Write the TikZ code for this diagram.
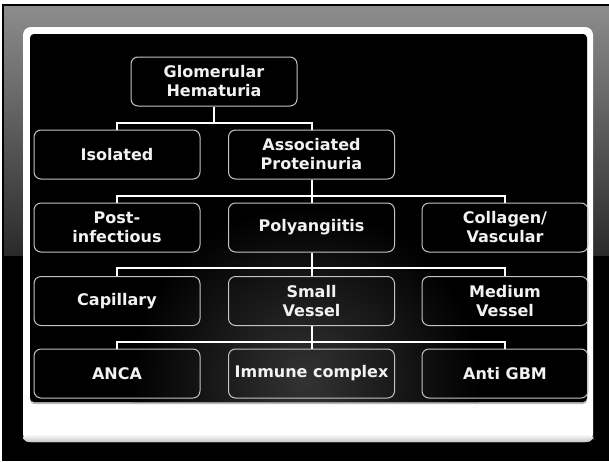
\documentclass[tikz,border=0pt]{standalone}
\usepackage{xcolor}
\usepackage{fontspec}
\setmainfont{DejaVu Sans}
\usepackage{tikz}
\usetikzlibrary{positioning}
\definecolor{FrameTop}{HTML}{8C8C8C}
\definecolor{FrameLow}{HTML}{2A2A2A}
\definecolor{PanelGlow}{HTML}{333333}
\definecolor{BoxEdge}{HTML}{C4C4C4}
\definecolor{LabelWhite}{HTML}{F2F2F2}
\tikzset{
  catnode/.style={draw=BoxEdge,rounded corners=7pt,line width=1pt,
    minimum width=166pt,minimum height=49pt,
    font=\fontsize{16}{19}\selectfont\bfseries\color{LabelWhite},
    align=center,inner sep=2pt},
  link/.style={line width=2pt,draw=white},
}
\begin{document}
\begin{tikzpicture}[x=1pt,y=-1pt]
  \useasboundingbox (0,0) rectangle (609,461);
  % slide frame
  \fill[white] (0,0) rectangle (609,461);
  \fill[black] (2,4) rectangle (609,461);
  \shade[top color=FrameTop,bottom color=FrameLow] (4,6) rectangle (609,256);
  \fill[black] (4,256) rectangle (609,461);
  \fill[white,rounded corners=8pt] (23,27) rectangle (593,442);
  \shade[top color=white,bottom color=gray!45,rounded corners=6pt] (23,434) rectangle (593,442);
  \fill[gray!55,rounded corners=4pt] (30,34) rectangle (587,404);
  \fill[black,rounded corners=4pt] (30,34) rectangle (587,402);
  \begin{scope}
    \clip[rounded corners=4pt] (30,34) rectangle (587,402);
    \shade[inner color=PanelGlow,outer color=black] (305,380) circle (175);
  \end{scope}

  % boxes
  \node[catnode] (gh)  at (214,81.5)   {Glomerular\\Hematuria};
  \node[catnode] (iso) at (117,154.5)  {Isolated};
  \node[catnode] (ap)  at (311.5,154.5){Associated\\Proteinuria};
  \node[catnode] (pi)  at (117,227.5)  {Post-\\infectious};
  \node[catnode] (pa)  at (311.5,227.5){Polyangiitis};
  \node[catnode] (cv)  at (505,227.5)  {Collagen/\\Vascular};
  \node[catnode] (cap) at (117,301)    {Capillary};
  \node[catnode] (sv)  at (311.5,301)  {Small\\Vessel};
  \node[catnode] (mv)  at (505,301)    {Medium\\Vessel};
  \node[catnode] (anca) at (117,373.5) {ANCA};
  \node[catnode] (ic)  at (311.5,373.5){Immune complex};
  \node[catnode] (gbm) at (505,373.5)  {Anti GBM};

  % elbow connectors
  \coordinate (b1) at (214,123);
  \coordinate (b2) at (311.5,196);
  \coordinate (b3) at (311.5,268);
  \coordinate (b4) at (311.5,342);
  \draw[link] (gh.south) -- (b1);
  \draw[link] (iso.north) |- (b1) -| (ap.north);
  \draw[link] (ap.south) -- (pa.north);
  \draw[link] (pi.north) |- (b2) -| (cv.north);
  \draw[link] (pa.south) -- (sv.north);
  \draw[link] (cap.north) |- (b3) -| (mv.north);
  \draw[link] (sv.south) -- (ic.north);
  \draw[link] (anca.north) |- (b4) -| (gbm.north);
\end{tikzpicture}
\end{document}
